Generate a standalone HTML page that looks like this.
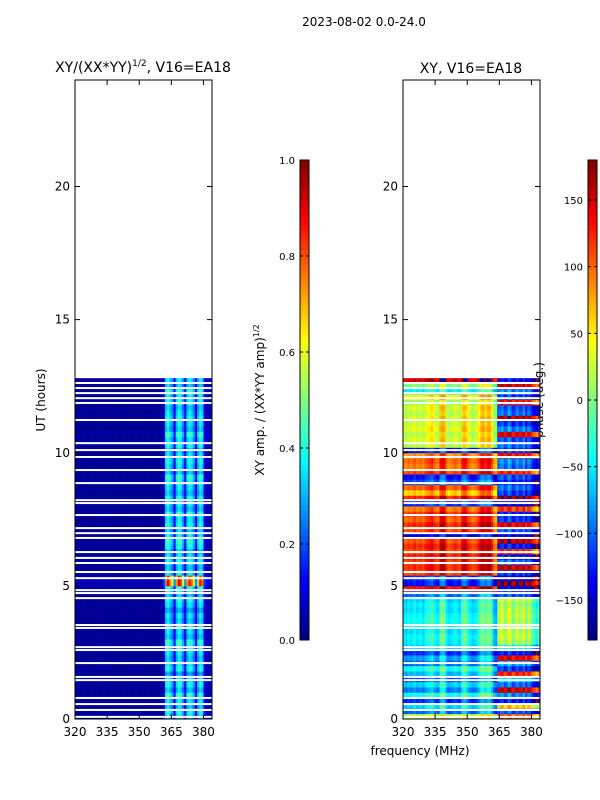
<!DOCTYPE html>
<html><head><meta charset="utf-8">
<style>
html,body{margin:0;padding:0;background:#fff;}
svg{display:block;font-family:"DejaVu Sans","Liberation Sans",sans-serif;}
</style></head>
<body>
<svg id="fig" width="600" height="800" viewBox="0 0 600 800" xmlns="http://www.w3.org/2000/svg">
<text x="364" y="26" font-size="12" text-anchor="middle">2023-08-02 0.0-24.0</text>
<text x="143" y="72" font-size="14" text-anchor="middle">XY/(XX*YY)<tspan font-size="9" dy="-6">1/2</tspan><tspan dy="6">, V16=EA18</tspan></text>
<text x="471" y="73" font-size="14" text-anchor="middle">XY, V16=EA18</text>
<text x="45" y="400" font-size="12" text-anchor="middle" transform="rotate(-90 45 400)">UT (hours)</text>
<text x="420" y="755" font-size="12" text-anchor="middle">frequency (MHz)</text>
<text x="264" y="400" font-size="12" text-anchor="middle" transform="rotate(-90 264 400)">XY amp. / (XX*YY amp)<tspan font-size="8" dy="-5">1/2</tspan></text>
<text x="543" y="400" font-size="12" text-anchor="middle" transform="rotate(-90 543 400)">phase (deg.)</text>
<g id="gL"></g>
<g id="gR"></g>
<g id="axes"></g>
</svg>
<script>
// ---- data ----
const freqStart = 320, freqStep = 1;          // 64 channels, 320..384 MHz
const timeStep = 0.2;                          // 64 rows, 0..12.8 h
const ampCols = [0.02,0.03,0.02,0.02,0.03,0.02,0.02,0.03,0.02,0.02,0.03,0.02,0.02,0.03,0.02,0.02,0.03,0.02,0.02,0.03,0.02,0.02,0.03,0.02,0.02,0.03,0.02,0.02,0.03,0.02,0.02,0.03,0.02,0.02,0.03,0.02,0.02,0.03,0.02,0.02,0.03,0.08,0.34,0.40,0.32,0.26,0.12,0.32,0.40,0.36,0.26,0.12,0.32,0.38,0.34,0.26,0.12,0.30,0.38,0.33,0.08,0.06,0.05,0.06];
const ampRowGain = [1.0,1.1,0.9,1.0,1.2,0.9,1.1,1.0,0.8,1.1,1.0,0.9,1.0,1.1,1.2,0.9,1.0,1.1,0.9,1.0,0.8,1.0,1.1,0.9,1.2,2.3,2.2,1.0,0.9,1.1,1.0,0.9,1.1,1.2,1.0,0.9,1.1,1.0,1.2,0.9,1.0,1.1,0.9,1.0,1.1,1.2,0.9,1.0,1.1,1.0,0.9,1.1,1.0,1.2,0.9,1.0,1.1,1.0,0.9,1.1,1.0,1.2,0.9,1.0];
const phaseRowLeft = [20,-100,-60,-120,-40,-90,-60,-110,-70,-40,-100,-80,-120,-60,-50,-45,-55,-50,-40,-45,-55,-50,-60,-100,130,-130,-120,110,120,115,125,110,120,105,-150,110,120,100,115,90,-120,120,60,100,-110,-130,110,90,100,80,-130,20,30,20,35,25,30,20,30,10,40,-50,0,150];
const phaseRowRight = [100,-110,60,-130,-90,150,-100,-60,120,-120,-80,140,-130,-50,10,20,15,25,10,20,15,5,20,-110,-150,170,-150,-120,150,-100,-140,120,-130,160,-150,-110,140,-120,-130,110,-150,170,-120,-100,-130,-110,120,-100,-90,130,-120,-100,-110,140,-90,-120,160,-100,-110,130,-120,-90,150,-140];
const phaseCols = [0,-10,5,-5,0,10,-5,0,5,-10,10,15,20,30,10,0,-5,40,50,40,0,-10,-5,0,10,0,-10,30,45,35,10,0,-10,-5,0,20,40,50,30,45,50,20,-20,-30,0,10,20,-10,0,30,10,-20,0,20,-10,0,20,-20,10,0,-30,-40,-60,-30];
const blankTimes = [0.08,0.34,0.56,0.79,1.46,1.58,2.10,2.59,2.70,3.42,3.53,4.54,4.73,4.84,5.29,5.52,5.86,6.05,6.27,6.80,6.98,7.17,7.66,8.11,8.22,8.86,9.35,9.84,10.10,10.36,11.23,11.87,12.05,12.24,12.43,12.62];
const yTicks = [0,5,10,15,20];
const xTicks = [320,335,350,365,380];
const ampTicks = [0.0,0.2,0.4,0.6,0.8,1.0];
const phaseTicks = [-150,-100,-50,0,50,100,150];

// ---- scales ----
const NS='http://www.w3.org/2000/svg';
const yTop=80, yBot=719, hMax=24;
function y(h){return yBot-(yBot-yTop)*h/hMax;}
function xs(x0){return f=>x0+(f-320)*137/64;}
const xL=xs(75), xR=xs(403);
function jet(v){v=Math.max(0,Math.min(1,v));
 const r=Math.max(0,Math.min(1,1.5-Math.abs(4*v-3))),g=Math.max(0,Math.min(1,1.5-Math.abs(4*v-2))),b=Math.max(0,Math.min(1,1.5-Math.abs(4*v-1)));
 return `rgb(${Math.round(r*255)},${Math.round(g*255)},${Math.round(b*255)})`;}
function mk(tag,attrs,parent){const e=document.createElementNS(NS,tag);for(const k in attrs)e.setAttribute(k,attrs[k]);parent.appendChild(e);return e;}
function wrap(p){while(p>180)p-=360;while(p<-180)p+=360;return p;}

const gL=document.getElementById('gL'), gR=document.getElementById('gR');
for(let r=0;r<ampRowGain.length;r++){
 const t0=r*timeStep,t1=t0+timeStep;
 for(let c=0;c<ampCols.length;c++){
  const f0=freqStart+c*freqStep,f1=f0+freqStep;
  const a=mk('rect',{x:xL(f0),y:y(t1),width:xL(f1)-xL(f0)+0.4,height:y(t0)-y(t1)+0.4,fill:jet(ampCols[c]*ampRowGain[r])},gL);
  
  
  const base=c>=44?phaseRowRight[r]:phaseRowLeft[r];
  const p=wrap(base+phaseCols[c]);
  const b=mk('rect',{x:xR(f0),y:y(t1),width:xR(f1)-xR(f0)+0.4,height:y(t0)-y(t1)+0.4,fill:jet((p+180)/360)},gR);
  
  
 }
}
for(const t of blankTimes){
 for(const [g,sx] of [[gL,xL],[gR,xR]]){
  const w=mk('rect',{x:sx(320),y:y(t)-1,width:137,height:2,fill:'#fff'},g);
  
  
 }
}
const ax=document.getElementById('axes');
for(const [x0,name] of [[75,'amp-axes'],[403,'phase-axes']]){
 const sx=xs(x0);
 const fr=mk('rect',{x:x0,y:yTop,width:137,height:yBot-yTop,fill:'none',stroke:'#000','stroke-width':1},ax);
 
 
 for(const t of yTicks){
  mk('line',{x1:x0,x2:x0+5,y1:y(t),y2:y(t),stroke:'#000'},ax);
  mk('line',{x1:x0+137,x2:x0+132,y1:y(t),y2:y(t),stroke:'#000'},ax);
  const l=mk('text',{x:x0-5,y:y(t)+4,'font-size':12,'text-anchor':'end'},ax);l.textContent=t;
  
  
 }
 for(const f of xTicks){
  mk('line',{x1:sx(f),x2:sx(f),y1:yBot,y2:yBot-5,stroke:'#000'},ax);
  mk('line',{x1:sx(f),x2:sx(f),y1:yTop,y2:yTop+5,stroke:'#000'},ax);
  const l=mk('text',{x:sx(f),y:736,'font-size':12,'text-anchor':'middle'},ax);l.textContent=f;
  
  
 }
}
// colorbars
function colorbar(x0,vmin,vmax,ticks,name,fmt){
 const top=160,bot=640,n=96;
 for(let i=0;i<n;i++){
  const r=mk('rect',{x:x0,y:bot-(i+1)*(bot-top)/n,width:9,height:(bot-top)/n+0.5,fill:jet((i+0.5)/n)},ax);
  
  
 }
 const fr=mk('rect',{x:x0,y:top,width:9,height:bot-top,fill:'none',stroke:'#000'},ax);
 
 
 for(const t of ticks){
  const yy=bot-(t-vmin)/(vmax-vmin)*(bot-top);
  mk('line',{x1:x0,x2:x0+3,y1:yy,y2:yy,stroke:'#000'},ax);
  mk('line',{x1:x0+9,x2:x0+6,y1:yy,y2:yy,stroke:'#000'},ax);
  const l=mk('text',{x:x0-5,y:yy+4,'font-size':10,'text-anchor':'end'},ax);l.textContent=fmt(t);
  
  
 }
}
colorbar(300,0,1,ampTicks,'amp-colorbar',t=>t.toFixed(1));
colorbar(588,-180,180,phaseTicks,'phase-colorbar',t=>t<0?'\u2212'+(-t):String(t));
</script>
</body></html>
